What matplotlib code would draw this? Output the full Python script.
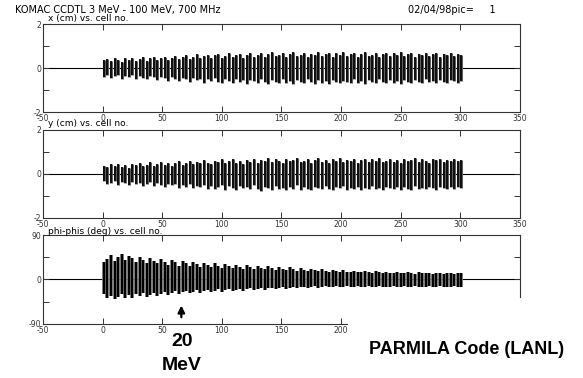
# plot.py
# Salida de PARMILA: x, y y phi-phis por celda (KOMAC CCDTL)

import numpy as np
import matplotlib.pyplot as plt
from matplotlib.patches import Rectangle

# Celdas muestreadas (cada 3 celdas, 1..301)
celdas = np.arange(1, 302, 3)

x_max = [0.35, 0.42, 0.30, 0.45, 0.38, 0.28, 0.44, 0.36, 0.47, 0.32,
         0.40, 0.48, 0.33, 0.45, 0.52, 0.36, 0.44, 0.50, 0.38, 0.46,
         0.55, 0.40, 0.48, 0.58, 0.42, 0.50, 0.62, 0.45, 0.53, 0.60,
         0.44, 0.57, 0.65, 0.47, 0.55, 0.68, 0.50, 0.58, 0.64, 0.46,
         0.60, 0.70, 0.52, 0.57, 0.66, 0.48, 0.62, 0.72, 0.55, 0.60,
         0.68, 0.50, 0.63, 0.73, 0.54, 0.60, 0.70, 0.52, 0.65, 0.58,
         0.72, 0.55, 0.62, 0.70, 0.50, 0.66, 0.60, 0.74, 0.56, 0.63,
         0.68, 0.52, 0.64, 0.71, 0.55, 0.60, 0.67, 0.50, 0.62, 0.69,
         0.54, 0.66, 0.60, 0.72, 0.53, 0.63, 0.68, 0.51, 0.65, 0.58,
         0.70, 0.55, 0.62, 0.67, 0.52, 0.64, 0.58, 0.69, 0.54, 0.62,
         0.60]
x_min = [-0.40, -0.32, -0.46, -0.35, -0.30, -0.48, -0.38, -0.42, -0.33, -0.50,
         -0.37, -0.45, -0.52, -0.36, -0.43, -0.55, -0.40, -0.47, -0.58, -0.41,
         -0.50, -0.60, -0.44, -0.52, -0.63, -0.46, -0.55, -0.48, -0.66, -0.50,
         -0.58, -0.45, -0.62, -0.70, -0.52, -0.60, -0.67, -0.48, -0.64, -0.56,
         -0.72, -0.53, -0.61, -0.68, -0.50, -0.65, -0.74, -0.55, -0.62, -0.70,
         -0.52, -0.66, -0.60, -0.73, -0.56, -0.64, -0.69, -0.51, -0.63, -0.71,
         -0.55, -0.67, -0.60, -0.72, -0.53, -0.65, -0.70, -0.57, -0.62, -0.68,
         -0.52, -0.66, -0.61, -0.73, -0.55, -0.64, -0.69, -0.50, -0.63, -0.70,
         -0.56, -0.66, -0.60, -0.71, -0.53, -0.64, -0.68, -0.55, -0.62, -0.70,
         -0.52, -0.65, -0.60, -0.67, -0.54, -0.63, -0.69, -0.56, -0.61, -0.66,
         -0.58]

y_max = [0.38, 0.30, 0.44, 0.36, 0.47, 0.33, 0.41, 0.29, 0.46, 0.39,
         0.50, 0.35, 0.43, 0.53, 0.38, 0.47, 0.55, 0.40, 0.49, 0.36,
         0.52, 0.58, 0.43, 0.50, 0.61, 0.45, 0.56, 0.48, 0.63, 0.51,
         0.44, 0.60, 0.53, 0.66, 0.49, 0.57, 0.68, 0.52, 0.61, 0.47,
         0.64, 0.55, 0.70, 0.50, 0.62, 0.58, 0.72, 0.53, 0.66, 0.59,
         0.51, 0.69, 0.57, 0.63, 0.74, 0.54, 0.61, 0.67, 0.50, 0.65,
         0.71, 0.56, 0.62, 0.52, 0.69, 0.60, 0.73, 0.55, 0.64, 0.58,
         0.67, 0.51, 0.63, 0.70, 0.54, 0.66, 0.59, 0.72, 0.53, 0.61,
         0.68, 0.56, 0.64, 0.50, 0.70, 0.58, 0.63, 0.71, 0.55, 0.66,
         0.60, 0.52, 0.67, 0.62, 0.69, 0.54, 0.65, 0.58, 0.70, 0.61,
         0.63]
y_min = [-0.34, -0.45, -0.39, -0.30, -0.48, -0.37, -0.43, -0.51, -0.35, -0.44,
         -0.40, -0.53, -0.46, -0.38, -0.56, -0.42, -0.50, -0.59, -0.44, -0.52,
         -0.47, -0.62, -0.51, -0.57, -0.45, -0.64, -0.53, -0.60, -0.49, -0.66,
         -0.55, -0.68, -0.58, -0.50, -0.71, -0.56, -0.63, -0.74, -0.54, -0.65,
         -0.60, -0.70, -0.52, -0.67, -0.76, -0.58, -0.64, -0.71, -0.55, -0.69,
         -0.62, -0.73, -0.57, -0.66, -0.52, -0.72, -0.61, -0.68, -0.75, -0.59,
         -0.64, -0.70, -0.54, -0.67, -0.73, -0.60, -0.65, -0.56, -0.71, -0.63,
         -0.69, -0.58, -0.74, -0.62, -0.66, -0.53, -0.70, -0.64, -0.72, -0.57,
         -0.63, -0.69, -0.60, -0.75, -0.58, -0.66, -0.71, -0.55, -0.68, -0.62,
         -0.70, -0.59, -0.65, -0.73, -0.57, -0.64, -0.69, -0.61, -0.67, -0.60,
         -0.62]

fase_max = [35, 42, 50, 38, 46, 52, 40, 48, 44, 36,
            45, 40, 34, 43, 38, 33, 41, 36, 30, 39,
            35, 28, 38, 33, 27, 36, 31, 26, 34, 30,
            25, 33, 28, 24, 31, 27, 23, 30, 26, 22,
            29, 25, 22, 28, 24, 21, 27, 23, 20, 26,
            22, 19, 25, 21, 18, 24, 20, 18, 22, 19,
            17, 21, 18, 16, 20, 17, 16, 19, 16, 15,
            18, 16, 15, 17, 15, 14, 17, 15, 14, 16,
            14, 13, 16, 14, 13, 15, 13, 12, 15, 13,
            13, 14, 12, 13, 14, 12, 13, 14, 12, 13,
            13]
fase_min = [-30, -38, -33, -40, -35, -29, -37, -32, -38, -30,
            -34, -28, -35, -31, -27, -33, -29, -25, -31, -27,
            -24, -30, -26, -23, -28, -25, -22, -27, -24, -21,
            -26, -23, -20, -25, -22, -19, -24, -21, -19, -23,
            -20, -18, -22, -19, -17, -21, -18, -17, -20, -18,
            -16, -19, -17, -15, -18, -16, -15, -17, -16, -14,
            -17, -15, -14, -16, -15, -14, -16, -15, -14, -16,
            -15, -14, -15, -16, -14, -15, -16, -14, -15, -16,
            -15, -14, -16, -15, -14, -16, -15, -14, -15, -16,
            -15, -14, -16, -15, -14, -15, -16, -15, -14, -15,
            -15]

x_ticks = [-50, 0, 50, 100, 150, 200, 250, 300, 350]

fig = plt.figure(figsize=(5.83, 3.78), dpi=100)
fuente = 'DejaVu Sans'


def preparar(ax, ylim, yticks, yetiq):
    ax.set_xlim(-50, 350)
    ax.set_ylim(*ylim)
    ax.set_xticks(x_ticks)
    ax.set_xticklabels([str(t) for t in x_ticks], fontsize=5.5, family=fuente)
    ax.set_yticks(yticks)
    ax.set_yticklabels(yetiq, fontsize=5.5, family=fuente)
    ax.tick_params(direction='in', length=4, width=0.7, pad=1.5,
                   top=True, right=True, colors='#333333')
    for s in ax.spines.values():
        s.set_linewidth(0.8)
        s.set_color('#333333')
    ax.axhline(0, color='black', lw=0.8, zorder=1)


# Panel x
ax1 = fig.add_axes([0.0738, 0.7037, 0.818, 0.2328])
preparar(ax1, (-2, 2), [-2, -1, 0, 1, 2], ['-2', '', '0', '', '2'])
ax1.vlines(celdas, x_min, x_max, color='#606060', lw=2.2, zorder=2)
ax1.vlines(celdas, x_min, x_max, color='black', lw=1.2, zorder=3)

# Panel y
ax2 = fig.add_axes([0.0738, 0.4233, 0.818, 0.2328])
preparar(ax2, (-2, 2), [-2, -1, 0, 1, 2], ['-2', '', '0', '', '2'])
ax2.vlines(celdas, y_min, y_max, color='#606060', lw=2.2, zorder=2)
ax2.vlines(celdas, y_min, y_max, color='black', lw=1.2, zorder=3)

# Panel fase
ax3 = fig.add_axes([0.0738, 0.1429, 0.818, 0.2354])
preparar(ax3, (-90, 90), [-90, -45, 0, 45, 90], ['-90', '', '0', '', '90'])
ax3.vlines(celdas, fase_min, fase_max, color='#8c8c8c', lw=2.7, zorder=2)
ax3.vlines(celdas, fase_min, fase_max, color='black', lw=1.7, zorder=3)
ax3.annotate('', xy=(66, -47), xytext=(66, -82),
             arrowprops=dict(arrowstyle='-|>', color='black', lw=1.6,
                             mutation_scale=10), annotation_clip=False)

# Textos de cabecera
fig.text(15 / 583, 1 - 10 / 378, 'KOMAC CCDTL 3 MeV - 100 MeV, 700 MHz',
         fontsize=7, family=fuente, va='center')
fig.text(408 / 583, 1 - 10 / 378, '02/04/98pic=     1',
         fontsize=7, family=fuente, va='center')
fig.text(48 / 583, 1 - 19 / 378, 'x (cm) vs. cell no.',
         fontsize=6.5, family=fuente, va='center')
fig.text(48 / 583, 1 - 124 / 378, 'y (cm) vs. cell no.',
         fontsize=6.5, family=fuente, va='center')
fig.text(48 / 583, 1 - 232 / 378, 'phi-phis (deg) vs. cell no.',
         fontsize=6.5, family=fuente, va='center')

# Recuadro blanco que tapa la esquina inferior derecha
fig.patches.append(Rectangle((348 / 583, 0), 1 - 348 / 583, (378 - 298) / 378,
                             transform=fig.transFigure, facecolor='white',
                             edgecolor='none', zorder=10))

fig.text(182 / 583, 1 - 342 / 378, '20', fontsize=14, weight='bold',
         family='Liberation Sans', ha='center', va='center', zorder=11)
fig.text(182 / 583, 1 - 366 / 378, 'MeV', fontsize=14, weight='bold',
         family='Liberation Sans', ha='center', va='center', zorder=11)
fig.text(467 / 583, 1 - 349 / 378, 'PARMILA Code (LANL)', fontsize=13,
         weight='bold', family='Liberation Sans', ha='center', va='center',
         zorder=11)

fig.savefig('out.png', dpi=100)
plt.close(fig)
